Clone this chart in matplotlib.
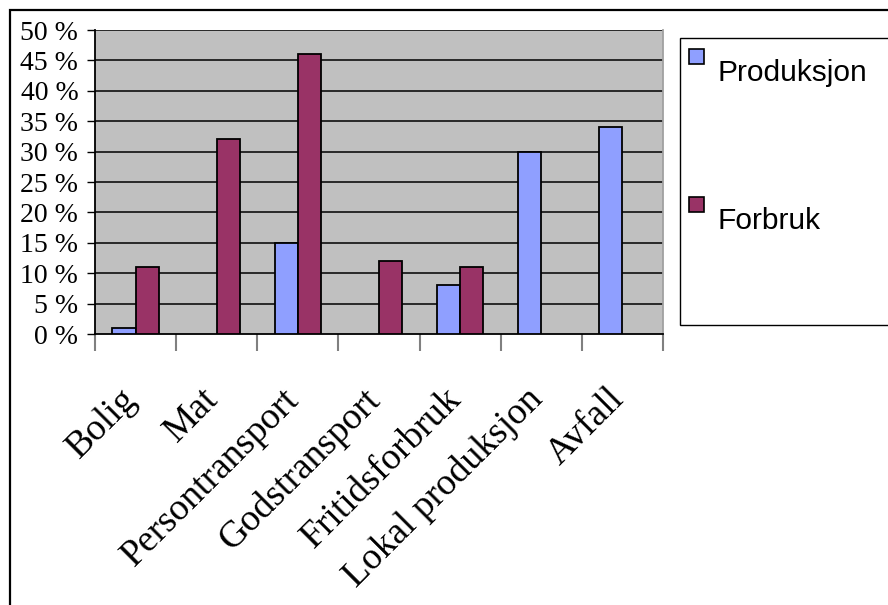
import numpy as np
import matplotlib.pyplot as plt
from matplotlib.patches import Rectangle
from matplotlib.ticker import FixedLocator
from matplotlib.transforms import ScaledTranslation

# Data (percent)
categories = ['Bolig', 'Mat', 'Persontransport', 'Godstransport',
              'Fritidsforbruk', 'Lokal produksjon', 'Avfall']
produksjon = [1, 0, 15, 0, 8, 30, 34]
forbruk = [11, 32, 46, 12, 11, 0, 0]
y_ticks = [0, 5, 10, 15, 20, 25, 30, 35, 40, 45, 50]

prod_color = '#8f9fff'
forb_color = '#993366'

fig = plt.figure(figsize=(8.88, 6.05), dpi=100)
W, H = 888, 605

def fx(px):
    return px / W

def fy(py):
    return 1 - py / H

ax = fig.add_axes([fx(95), fy(334), fx(663) - fx(95), fy(30) - fy(334)])
ax.set_facecolor('#c0c0c0')

x = np.arange(len(categories)) + 0.5
width = 0.285
for i in range(len(categories)):
    if produksjon[i] > 0:
        ax.bar(x[i] - width / 2, produksjon[i], width, color=prod_color,
               edgecolor='black', linewidth=1.3, zorder=3)
    if forbruk[i] > 0:
        ax.bar(x[i] + width / 2, forbruk[i], width, color=forb_color,
               edgecolor='black', linewidth=1.3, zorder=3)

ax.set_xlim(0, len(categories))
ax.set_ylim(0, 50)

# horizontal grid
for v in y_ticks[1:]:
    ax.axhline(v, color='black', linewidth=1.1, zorder=1)

ax.set_yticks(y_ticks)
ax.set_yticklabels([f'{v} %' for v in y_ticks], family='Liberation Serif',
                   fontsize=20)
ax.tick_params(axis='y', length=6, width=1, color='black', pad=6)

ax.set_xticks(x)
ax.set_xticklabels(categories, family='Liberation Serif', fontsize=27,
                   rotation=45, ha='right', va='top', rotation_mode='anchor')
ax.tick_params(axis='x', which='major', length=0, pad=32)
shift = ScaledTranslation(-0.16, -0.035, fig.dpi_scale_trans)
for lbl in ax.get_xticklabels():
    lbl.set_transform(lbl.get_transform() + shift)
ax.xaxis.set_minor_locator(FixedLocator(np.arange(len(categories) + 1)))
ax.tick_params(axis='x', which='minor', length=12, width=1.5, color='#808080')

for side in ['left', 'bottom']:
    ax.spines[side].set_color('black')
    ax.spines[side].set_linewidth(1.3)
ax.spines['right'].set_color('#a0a0a0')
ax.spines['right'].set_linewidth(1.3)
ax.spines['top'].set_visible(False)

# outer frame (cut at right and bottom)
fig.patches.append(Rectangle((fx(10), fy(620)), fx(900) - fx(10), fy(10) - fy(620),
                             transform=fig.transFigure, fill=False,
                             edgecolor='black', linewidth=1.6))

# legend box
fig.patches.append(Rectangle((fx(680), fy(325)), fx(900) - fx(680), fy(38) - fy(325),
                             transform=fig.transFigure, facecolor='white',
                             edgecolor='black', linewidth=1.0))
for label, color, ypx in [('Produksjon', prod_color, 57), ('Forbruk', forb_color, 205)]:
    fig.patches.append(Rectangle((fx(689), fy(ypx + 7)), fx(15), 15 / H,
                                 transform=fig.transFigure, facecolor=color,
                                 edgecolor='black', linewidth=1.2))
    fig.text(fx(717), fy(ypx + 16), label, family='Liberation Sans',
             fontsize=21.5, va='center', ha='left')

fig.savefig('out.png', dpi=100)
